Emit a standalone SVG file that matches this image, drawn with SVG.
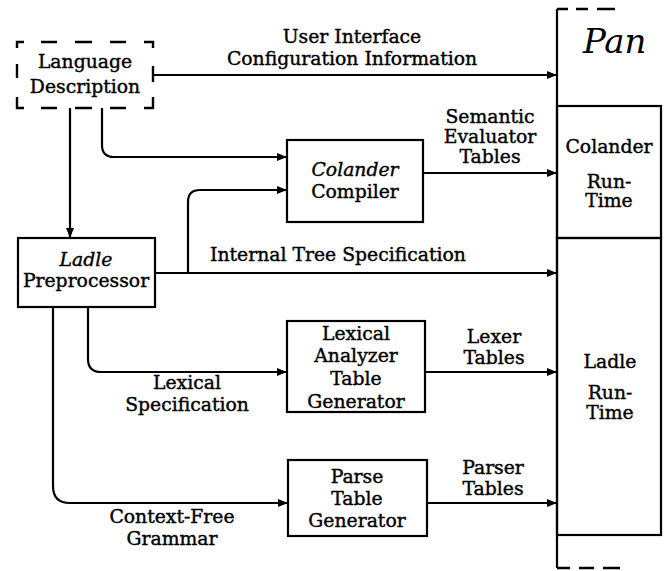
<svg xmlns="http://www.w3.org/2000/svg" width="669" height="571" viewBox="0 0 669 571">
<defs>
<marker id="ah" markerWidth="10" markerHeight="8" refX="10" refY="4" orient="auto" markerUnits="userSpaceOnUse">
<path d="M0,0 L10,4 L0,8 Z" fill="#000"/>
</marker>
<style>
.t{font-family:"DejaVu Serif","Liberation Serif",serif;font-size:18.8px;fill:#000;stroke:#000;stroke-width:0.4;text-anchor:middle}
.i{font-style:italic}
.box{fill:none;stroke:#000;stroke-width:2.2}
.ln{fill:none;stroke:#000;stroke-width:2.2}
.ar{fill:none;stroke:#000;stroke-width:2.2;marker-end:url(#ah)}
.d{fill:none;stroke:#000;stroke-width:2.4}
</style>
</defs>
<rect width="669" height="571" fill="#fff"/>

<g id="connectors">
<path class="ar" d="M153,75 H557"/>
<path class="ar" d="M102,108 V145 Q102,157 114,157 H287"/>
<path class="ar" d="M70,108 V238"/>
<path class="ar" d="M188,273 V202 Q188,190 200,190 H287"/>
<path class="ar" d="M155,273 H557"/>
<path class="ar" d="M423,173 H557"/>
<path class="ar" d="M88,307 V359 Q88,372 101,372 H287"/>
<path class="ar" d="M425,372 H557"/>
<path class="ar" d="M53,307 V486 Q53,503 70,503 H288"/>
<path class="ar" d="M427,503 H557"/>
</g>

<g id="language-description">
<path class="d" d="M17,48 V42 H24 M41,42 H57 M75,42 H92 M110,42 H126 M144,42 H153 V48 M17,64 V78 M17,97 V108 H24 M41,108 H57 M75,108 H92 M110,108 H126 M144,108 H153 V97 M153,66 V82"/>
<text class="t" x="85" y="68">Language</text>
<text class="t" x="85" y="93">Description</text>
</g>

<g id="ladle-preprocessor">
<rect class="box" x="18" y="238" width="137" height="69"/>
<text class="t i" x="86" y="266">Ladle</text>
<text class="t" x="86" y="287">Preprocessor</text>
</g>

<g id="colander-compiler">
<rect class="box" x="287" y="140" width="136" height="82"/>
<text class="t i" x="355" y="176">Colander</text>
<text class="t" x="355" y="198">Compiler</text>
</g>

<g id="lexical-analyzer">
<rect class="box" x="287" y="321" width="138" height="91"/>
<text class="t" x="356" y="340">Lexical</text>
<text class="t" x="356" y="362">Analyzer</text>
<text class="t" x="356" y="385">Table</text>
<text class="t" x="356" y="408">Generator</text>
</g>

<g id="parse-table-generator">
<rect class="box" x="288" y="460" width="139" height="76"/>
<text class="t" x="357" y="483">Parse</text>
<text class="t" x="357" y="505">Table</text>
<text class="t" x="357" y="527">Generator</text>
</g>

<g id="pan">
<path class="d" d="M557,9 H568 M576,9 H588 M597,9 H615"/>
<path class="box" d="M557,9 V568"/>
<path class="d" d="M557,568 H570 M579,568 H594 M603,568 H620"/>
<text class="i" x="583" y="53" style="font-family:'DejaVu Serif','Liberation Serif',serif;font-size:34px">Pan</text>
</g>

<g id="colander-runtime">
<rect class="box" x="557" y="106" width="104" height="132"/>
<text class="t" x="609" y="153">Colander</text>
<text class="t" x="609" y="188">Run-</text>
<text class="t" x="609" y="207">Time</text>
</g>

<g id="ladle-runtime">
<rect class="box" x="557" y="238" width="104" height="297"/>
<text class="t" x="610" y="368">Ladle</text>
<text class="t" x="610" y="399">Run-</text>
<text class="t" x="610" y="419">Time</text>
</g>

<g id="labels">
<text class="t" x="352" y="43">User Interface</text>
<text class="t" x="352" y="65">Configuration Information</text>
<text class="t" x="490" y="123">Semantic</text>
<text class="t" x="490" y="143">Evaluator</text>
<text class="t" x="490" y="163">Tables</text>
<text class="t" x="338" y="261">Internal Tree Specification</text>
<text class="t" x="494" y="343">Lexer</text>
<text class="t" x="494" y="364">Tables</text>
<text class="t" x="187" y="389">Lexical</text>
<text class="t" x="187" y="411">Specification</text>
<text class="t" x="493" y="474">Parser</text>
<text class="t" x="493" y="495">Tables</text>
<text class="t" x="172" y="523">Context-Free</text>
<text class="t" x="172" y="545">Grammar</text>
</g>
</svg>
